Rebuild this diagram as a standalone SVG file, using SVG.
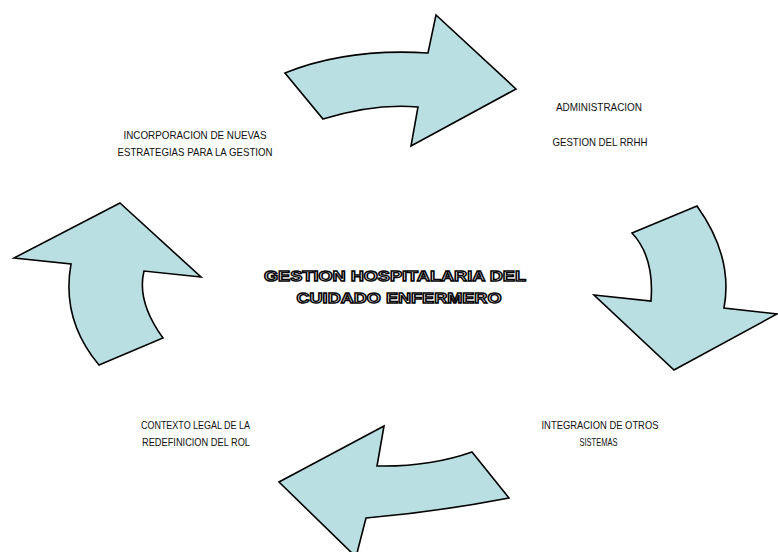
<svg xmlns="http://www.w3.org/2000/svg" width="778" height="552" viewBox="0 0 778 552">
<style>
.arrow{fill:#b9dfe2;stroke:#000;stroke-width:1.6;stroke-linejoin:miter}
.lbl{font-family:"Liberation Sans",Arial,sans-serif;font-size:10.3px;fill:#111;text-anchor:middle}
.title{font-family:"Liberation Sans",Arial,sans-serif;font-size:14.5px;font-weight:bold;fill:#fff;stroke:#000;stroke-width:1.3;text-anchor:middle}
</style>
<rect width="778" height="552" fill="#fff"/>
<g id="connectors">
<path id="arrow-top" class="arrow" d="M285,73 Q347,48 428,53 L436,15 L516,89 L411,146 L418,107 Q375,103 323,119 Z"/>
<path id="arrow-right" class="arrow" d="M632,233 L697,206 Q733.5,257 724,308 L777,314 L674,370 L594,295 L651,301 Q654.5,257 632,233 Z"/>
<path id="arrow-bottom" class="arrow" d="M384,426 L377,466 Q429.5,467 472,452 L509,498 Q436.5,512 366,518 L356,557 L279,482 Z"/>
<path id="arrow-left" class="arrow" d="M120,203 L201,277 L144,271 Q136.5,301.5 163,338 L99,365 Q61,319.5 71,264 L14,258 Z"/>
</g>
<g id="node-center">
<text class="title" x="395" y="281" textLength="262" lengthAdjust="spacingAndGlyphs">GESTION HOSPITALARIA DEL</text>
<text class="title" x="399" y="303" textLength="205" lengthAdjust="spacingAndGlyphs">CUIDADO ENFERMERO</text>
</g>
<g id="node-admin">
<text class="lbl" x="599" y="111" textLength="86" lengthAdjust="spacingAndGlyphs">ADMINISTRACION</text>
<text class="lbl" x="600" y="145.5" textLength="95" lengthAdjust="spacingAndGlyphs">GESTION DEL RRHH</text>
</g>
<g id="node-integracion">
<text class="lbl" x="600" y="429" textLength="117" lengthAdjust="spacingAndGlyphs">INTEGRACION DE OTROS</text>
<text class="lbl" x="598.5" y="445.5" textLength="38" lengthAdjust="spacingAndGlyphs">SISTEMAS</text>
</g>
<g id="node-contexto">
<text class="lbl" x="195.5" y="429" textLength="109" lengthAdjust="spacingAndGlyphs">CONTEXTO LEGAL DE LA</text>
<text class="lbl" x="196" y="445.5" textLength="108" lengthAdjust="spacingAndGlyphs">REDEFINICION DEL ROL</text>
</g>
<g id="node-incorporacion">
<text class="lbl" x="195" y="138.5" textLength="143" lengthAdjust="spacingAndGlyphs">INCORPORACION DE NUEVAS</text>
<text class="lbl" x="195" y="155.5" textLength="155" lengthAdjust="spacingAndGlyphs">ESTRATEGIAS PARA LA GESTION</text>
</g>
</svg>
